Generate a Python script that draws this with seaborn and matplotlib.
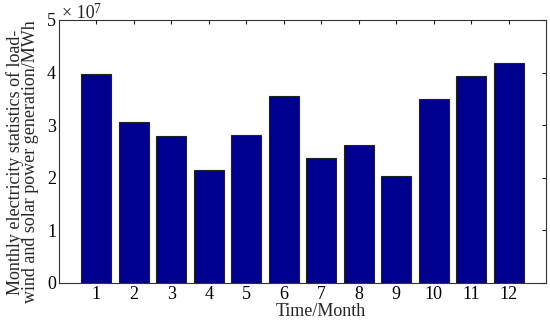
import pandas as pd
import matplotlib.pyplot as plt
import seaborn as sns

# Monthly load-wind and solar generation (units of 1e7 MWh)
months = [1, 2, 3, 4, 5, 6, 7, 8, 9, 10, 11, 12]
energy = [3.97, 3.05, 2.79, 2.15, 2.82, 3.55, 2.38, 2.62, 2.04, 3.49, 3.93, 4.18]
yticks = [0, 1, 2, 3, 4, 5]

df = pd.DataFrame({'month': months, 'energy': energy})

sns.set_style('white')
plt.rcParams['font.family'] = ['Liberation Serif', 'DejaVu Serif']

fs = 13

fig = plt.figure(figsize=(5.5, 3.26), dpi=100)
ax = fig.add_axes([0.107, 0.132, 0.886, 0.807])

sns.barplot(data=df, x='month', y='energy', native_scale=True, width=0.8,
            color='#00008F', saturation=1, edgecolor='#222222', linewidth=0.8,
            ax=ax, errorbar=None)

ax.set_xlim(0, 13)
ax.set_ylim(0, 5)
ax.set_xticks(months)
ax.set_xticklabels([str(m) for m in months])
ax.set_yticks(yticks)
ax.set_yticklabels([str(t) for t in yticks])
ax.tick_params(direction='in', length=3, width=0.8, labelsize=fs, pad=2,
               top=True, right=True, colors='#222222', labelcolor='black')
for s in ax.spines.values():
    s.set_visible(True)
    s.set_color('#333333')
    s.set_linewidth(0.8)

ax.set_xlabel('Time/Month', fontsize=fs, labelpad=0)
ax.xaxis.set_label_coords(0.538, -0.075)
ax.set_ylabel('Monthly electricity statistics of load-\nwind and solar power generation/MWh',
              fontsize=fs, linespacing=0.85)
ax.yaxis.set_label_coords(-0.04, 0.46)

# exponent label, drawn by hand like MATLAB's "x 10^7"
ax.annotate('\u00d7 10', xy=(0.0, 1.0), xycoords='axes fraction',
            xytext=(2, 1.5), textcoords='offset points', fontsize=fs,
            ha='left', va='baseline')
ax.annotate('7', xy=(0.0, 1.0), xycoords='axes fraction',
            xytext=(25, 5), textcoords='offset points', fontsize=10,
            ha='left', va='baseline')

fig.savefig('out.png', dpi=100)
